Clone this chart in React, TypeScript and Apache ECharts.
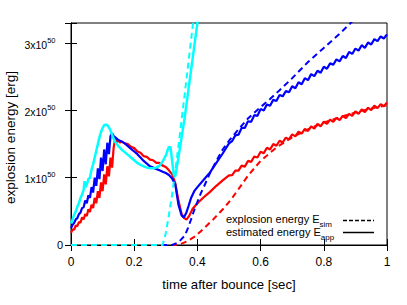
import React, { useEffect, useRef } from "react";
import * as echarts from "echarts";

// time after bounce [sec], energy in units of 1e50 erg
const xTicks = [0, 0.2, 0.4, 0.6, 0.8, 1];
const yTicks = [0, 1, 2, 3];

const redApp: number[][] = [
  [0, 0.18], [0.005, 0.23], [0.01, 0.23], [0.015, 0.29], [0.02, 0.28], [0.025, 0.34], [0.03, 0.33],
  [0.035, 0.41], [0.04, 0.38], [0.045, 0.46], [0.05, 0.43], [0.055, 0.53], [0.06, 0.49], [0.065, 0.6],
  [0.07, 0.55], [0.075, 0.7], [0.08, 0.62], [0.085, 0.8], [0.09, 0.7], [0.095, 0.93], [0.1, 0.8],
  [0.105, 1.05], [0.11, 0.9], [0.115, 1.17], [0.12, 1.02], [0.125, 1.3], [0.13, 1.15], [0.135, 1.45],
  [0.14, 1.58], [0.145, 1.53], [0.15, 1.56], [0.155, 1.52], [0.16, 1.54], [0.17, 1.51], [0.18, 1.5],
  [0.19, 1.46], [0.2, 1.44], [0.21, 1.39], [0.22, 1.37], [0.23, 1.32], [0.24, 1.31], [0.25, 1.27],
  [0.26, 1.26], [0.27, 1.22], [0.28, 1.22], [0.29, 1.18], [0.3, 1.16], [0.31, 1.11], [0.32, 1.05],
  [0.33, 0.92], [0.34, 0.66], [0.35, 0.46], [0.358, 0.4], [0.366, 0.38], [0.375, 0.44], [0.385, 0.54],
  [0.4, 0.62], [0.42, 0.71], [0.44, 0.79], [0.46, 0.88], [0.48, 0.96],
  [0.5, 1.035], [0.51, 1.04], [0.52, 1.105], [0.53, 1.105], [0.54, 1.18], [0.55, 1.165], [0.56, 1.25],
  [0.57, 1.235], [0.58, 1.315], [0.59, 1.3], [0.6, 1.385], [0.61, 1.365], [0.62, 1.445], [0.63, 1.42],
  [0.64, 1.5], [0.65, 1.475], [0.66, 1.55], [0.67, 1.525], [0.68, 1.595], [0.69, 1.57], [0.7, 1.645],
  [0.71, 1.615], [0.72, 1.685], [0.73, 1.655], [0.74, 1.725], [0.75, 1.695], [0.76, 1.765], [0.77, 1.73],
  [0.78, 1.8], [0.79, 1.765], [0.8, 1.835], [0.81, 1.8], [0.82, 1.865], [0.83, 1.83], [0.84, 1.89],
  [0.85, 1.855], [0.86, 1.92], [0.87, 1.885], [0.88, 1.95], [0.89, 1.92], [0.9, 1.985], [0.91, 1.95],
  [0.92, 2.015], [0.93, 1.975], [0.94, 2.04], [0.95, 2.005], [0.96, 2.07], [0.97, 2.035], [0.98, 2.095],
  [0.99, 2.06], [1.0, 2.12],
];

const redSim: number[][] = [
  [0, 0], [0.33, 0], [0.35, 0.02], [0.37, 0.06], [0.39, 0.12], [0.41, 0.2], [0.43, 0.29], [0.45, 0.38],
  [0.47, 0.48], [0.49, 0.58], [0.51, 0.7], [0.53, 0.83], [0.56, 1.03], [0.6, 1.25], [0.65, 1.45],
  [0.7, 1.6], [0.75, 1.72], [0.8, 1.82], [0.85, 1.9], [0.9, 1.97], [0.95, 2.03], [1.0, 2.08],
];

const blueApp: number[][] = [
  [0, 0.25], [0.005, 0.3], [0.01, 0.33], [0.015, 0.38], [0.02, 0.4], [0.025, 0.46], [0.03, 0.48],
  [0.035, 0.55], [0.04, 0.56], [0.045, 0.66], [0.05, 0.62], [0.055, 0.74], [0.06, 0.7], [0.065, 0.86],
  [0.07, 0.78], [0.075, 1.0], [0.08, 0.88], [0.085, 1.14], [0.09, 0.98], [0.095, 1.3], [0.1, 1.1],
  [0.105, 1.42], [0.11, 1.2], [0.115, 1.52], [0.12, 1.35], [0.125, 1.62], [0.13, 1.66], [0.135, 1.62],
  [0.14, 1.6], [0.15, 1.56], [0.16, 1.54], [0.17, 1.51], [0.18, 1.47], [0.19, 1.43], [0.2, 1.39],
  [0.21, 1.35], [0.22, 1.3], [0.23, 1.25], [0.24, 1.21], [0.25, 1.17], [0.26, 1.15], [0.27, 1.13],
  [0.28, 1.11], [0.29, 1.09], [0.3, 1.07], [0.31, 1.04], [0.32, 0.99], [0.33, 0.9], [0.34, 0.6],
  [0.35, 0.44], [0.357, 0.41], [0.365, 0.48], [0.372, 0.58], [0.38, 0.7], [0.39, 0.8], [0.4, 0.86],
  [0.42, 0.97], [0.44, 1.08], [0.46, 1.22], [0.48, 1.36],
  [0.5, 1.51], [0.51, 1.545], [0.52, 1.63], [0.53, 1.64], [0.54, 1.74], [0.55, 1.74], [0.56, 1.84],
  [0.57, 1.83], [0.58, 1.93], [0.59, 1.92], [0.6, 2.02], [0.61, 2.0], [0.62, 2.09], [0.63, 2.07],
  [0.64, 2.16], [0.65, 2.14], [0.66, 2.23], [0.67, 2.21], [0.68, 2.29], [0.69, 2.27], [0.7, 2.36],
  [0.71, 2.33], [0.72, 2.42], [0.73, 2.39], [0.74, 2.48], [0.75, 2.45], [0.76, 2.54], [0.77, 2.51],
  [0.78, 2.59], [0.79, 2.56], [0.8, 2.65], [0.81, 2.62], [0.82, 2.7], [0.83, 2.68], [0.84, 2.76],
  [0.85, 2.73], [0.86, 2.81], [0.87, 2.78], [0.88, 2.87], [0.89, 2.84], [0.9, 2.92], [0.91, 2.89],
  [0.92, 2.97], [0.93, 2.93], [0.94, 3.01], [0.95, 2.98], [0.96, 3.06], [0.97, 3.03], [0.98, 3.1],
  [0.99, 3.07], [1.0, 3.13],
];

const blueSim: number[][] = [
  [0, 0], [0.32, 0], [0.34, 0.04], [0.36, 0.14], [0.37, 0.25], [0.38, 0.38], [0.39, 0.52], [0.4, 0.64],
  [0.41, 0.76], [0.42, 0.86], [0.44, 1.07], [0.46, 1.25], [0.48, 1.42], [0.5, 1.55], [0.53, 1.72],
  [0.56, 1.88], [0.6, 2.05], [0.63, 2.17], [0.66, 2.3], [0.7, 2.48], [0.75, 2.72], [0.8, 2.93],
  [0.85, 3.14], [0.885, 3.3], [0.9, 3.37],
];

const cyanApp: number[][] = [
  [0, 0.32], [0.005, 0.38], [0.01, 0.45], [0.015, 0.5], [0.02, 0.57], [0.025, 0.62], [0.03, 0.7],
  [0.035, 0.75], [0.04, 0.82], [0.043, 0.95], [0.046, 0.86], [0.05, 0.9], [0.055, 0.98], [0.06, 1.0],
  [0.065, 1.12], [0.07, 1.2], [0.075, 1.3], [0.08, 1.4], [0.085, 1.5], [0.09, 1.6], [0.095, 1.68],
  [0.1, 1.74], [0.105, 1.78], [0.11, 1.79], [0.115, 1.78], [0.12, 1.75], [0.125, 1.7], [0.13, 1.64],
  [0.135, 1.58], [0.14, 1.53], [0.15, 1.47], [0.16, 1.42], [0.17, 1.38], [0.18, 1.34], [0.19, 1.3],
  [0.2, 1.26], [0.21, 1.22], [0.22, 1.19], [0.23, 1.17], [0.24, 1.15], [0.25, 1.14], [0.26, 1.14],
  [0.27, 1.15], [0.28, 1.18], [0.29, 1.24], [0.3, 1.33], [0.305, 1.4], [0.31, 1.46], [0.315, 1.45],
  [0.32, 1.25], [0.325, 1.05], [0.33, 1.02], [0.34, 1.3], [0.35, 1.6], [0.36, 1.9], [0.37, 2.25],
  [0.38, 2.6], [0.39, 2.95], [0.4, 3.3], [0.41, 3.65],
];

const cyanSim: number[][] = [
  [0, 0], [0.29, 0], [0.3, 0.18], [0.31, 0.45], [0.32, 0.75], [0.33, 1.1], [0.34, 1.47], [0.35, 1.86],
  [0.36, 2.25], [0.37, 2.65], [0.38, 3.05], [0.39, 3.45],
];

const legendLabels = ["explosion energy E", "estimated energy E"];
const legendSubs = ["sim", "app"];
const xTitle = "time after bounce [sec]";
const yTitle = "explosion energy [erg]";

const FONT = "Liberation Sans, Arial, sans-serif";

export default function App() {
  const ref = useRef<HTMLDivElement>(null);
  useEffect(() => {
    if (!ref.current) return;
    const chart = echarts.init(ref.current, null, { renderer: "svg" });
    const solid = (data: number[][], color: string, w = 2) => ({
      type: "line",
      data,
      showSymbol: false,
      symbol: "none",
      lineStyle: { color, width: w, type: "solid" },
      xAxisIndex: 0,
      yAxisIndex: 0,
      z: 3,
    });
    const dashed = (data: number[][], color: string) => ({
      type: "line",
      data,
      showSymbol: false,
      symbol: "none",
      lineStyle: { color, width: 2, type: [6, 4] },
      xAxisIndex: 0,
      yAxisIndex: 0,
      z: 3,
    });
    const tickStyle = { show: true, inside: true, length: 6, lineStyle: { color: "#000", width: 1 } };
    const axisLine = { show: true, lineStyle: { color: "#000", width: 1 } };
    chart.setOption({
      animation: false,
      backgroundColor: "#fff",
      textStyle: { fontFamily: FONT },
      grid: {
        left: 71, right: 20, top: 23, bottom: 60, show: true, borderColor: "#000", borderWidth: 1,
        containLabel: false, outerBoundsMode: "none",
      },
      xAxis: [
        {
          type: "value", min: xTicks[0], max: xTicks[xTicks.length - 1], interval: 0.2,
          position: "bottom",
          axisLine, axisTick: tickStyle, splitLine: { show: false },
          axisLabel: { color: "#000", fontSize: 12, margin: 11, fontFamily: FONT,
            formatter: (v: number) => String(Math.round(v * 10) / 10) },
          name: xTitle, nameLocation: "middle", nameGap: 33, nameMoveOverlap: false,
          nameTextStyle: { color: "#000", fontSize: 13.2, fontFamily: FONT },
        },
        {
          type: "value", min: 0, max: 1, interval: 0.2, position: "top",
          axisLine, axisTick: tickStyle, splitLine: { show: false }, axisLabel: { show: false },
        },
      ],
      yAxis: [
        {
          type: "value", min: yTicks[0], max: 3.3, interval: 1, position: "left",
          axisLine, axisTick: tickStyle, splitLine: { show: false },
          axisLabel: {
            color: "#000", fontSize: 11, margin: 8, fontFamily: FONT,
            formatter: (v: number) => {
              if (Math.abs(v - Math.round(v)) > 1e-6) return "";
              if (v === 0) return "{z|0}";
              return `{b|${Math.round(v)}x10}{s|50}{p| }`;
            },
            rich: {
              z: { fontSize: 11, color: "#000", fontFamily: FONT },
              b: { fontSize: 10.5, color: "#000", lineHeight: 14, verticalAlign: "bottom", fontFamily: FONT },
              s: { fontSize: 7.5, color: "#000", lineHeight: 8, verticalAlign: "top", fontFamily: FONT },
              p: { fontSize: 7, width: 7.5, color: "#fff" },
            },
          },
        },
        {
          type: "value", min: 0, max: 3.3, interval: 1, position: "right",
          axisLine, axisTick: tickStyle, splitLine: { show: false }, axisLabel: { show: false },
        },
      ],
      graphic: [
        {
          type: "text",
          x: 10,
          y: 137.5,
          rotation: Math.PI / 2,
          style: {
            text: yTitle, fontSize: 13.5, fontFamily: FONT, fill: "#000",
            align: "center", verticalAlign: "middle",
          },
        },
        ...legendLabels.map((t, i) => ({
          type: "text",
          x: 226,
          y: 221 + i * 12.5,
          z: 10,
          style: {
            text: `{b|${t}}{s|${legendSubs[i]}}`,
            verticalAlign: "middle",
            rich: {
              b: { fontSize: 11, fill: "#000", lineHeight: 15, verticalAlign: "top", fontFamily: FONT },
              s: { fontSize: 8, fill: "#000", lineHeight: 9, verticalAlign: "bottom", fontFamily: FONT },
            },
          },
        })),
        {
          type: "line", z: 10,
          shape: { x1: 343, y1: 220.5, x2: 374, y2: 220.5 },
          style: { stroke: "#000", lineWidth: 1.5, lineDash: [4, 2] },
        },
        {
          type: "line", z: 10,
          shape: { x1: 343, y1: 232.5, x2: 374, y2: 232.5 },
          style: { stroke: "#000", lineWidth: 1.5 },
        },
      ],
      series: [
        solid(redApp, "#ff0000", 2.2),
        dashed(redSim, "#ff0000"),
        solid(blueApp, "#0000ff", 2.2),
        dashed(blueSim, "#0000ff"),
        solid(cyanApp, "#00ffff", 2.5),
        dashed(cyanSim, "#00ffff"),
      ],
    });
    return () => chart.dispose();
  }, []);
  return <div ref={ref} style={{ position: "fixed", left: 0, top: 0, width: 407, height: 305 }} />;
}
